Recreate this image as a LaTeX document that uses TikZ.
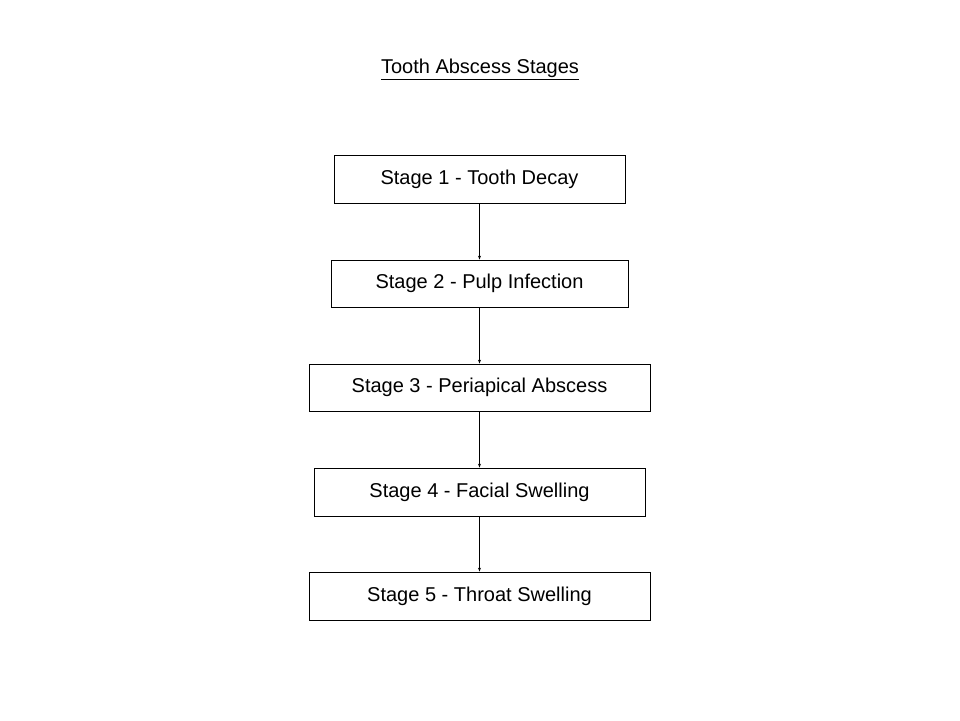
\documentclass[tikz,border=0pt]{standalone}
\usepackage{fontspec}
\setmainfont{Liberation Sans}
\usetikzlibrary{arrows.meta}
\begin{document}
\begin{tikzpicture}[x=1pt,y=-1pt,
  stagebox/.style={draw=black,line width=0.8pt,minimum height=48pt,inner sep=0pt,font=\fontsize{20}{24}\selectfont},
  conn/.style={-{Stealth[length=4pt,width=3pt]},line width=0.6pt}]
\useasboundingbox[fill=white] (0,0) rectangle (960,720);
\node (title) at (480,69) {\fontsize{20}{24}\selectfont\underline{Tooth Abscess Stages}};
\node[stagebox,minimum width=291pt] (s1) at (479.5,179) {Stage 1 - Tooth Decay};
\node[stagebox,minimum width=297pt,minimum height=47pt] (s2) at (479.5,283.5) {Stage 2 - Pulp Infection};
\node[stagebox,minimum width=341pt,minimum height=47pt] (s3) at (479.5,387.5) {Stage 3 - Periapical Abscess};
\node[stagebox,minimum width=331pt] (s4) at (479.5,492) {Stage 4 - Facial Swelling};
\node[stagebox,minimum width=341pt] (s5) at (479.5,596) {Stage 5 - Throat Swelling};
\draw[conn] (s1) -- (s2);
\draw[conn] (s2) -- (s3);
\draw[conn] (s3) -- (s4);
\draw[conn] (s4) -- (s5);
\end{tikzpicture}
\end{document}
